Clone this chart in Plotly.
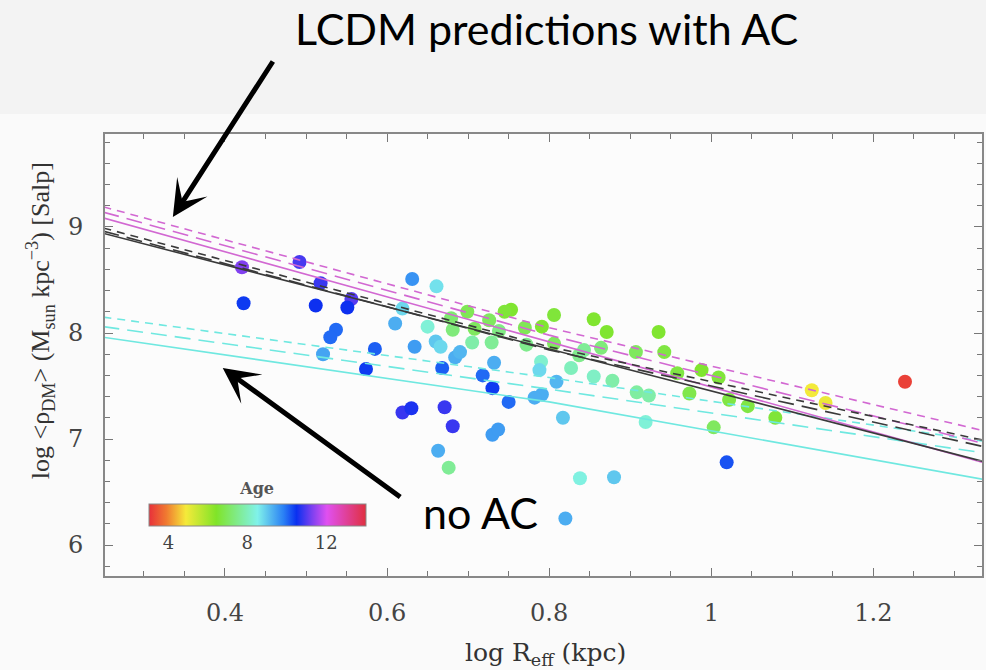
import plotly.graph_objects as go

# ---- data ----
log_reff = [0.421, 0.423, 0.492, 0.518, 0.512, 0.556, 0.551, 0.537, 0.530, 0.521,
            0.585, 0.574, 0.631, 0.661, 0.619, 0.610, 0.634, 0.619, 0.630, 0.650,
            0.660, 0.666, 0.684, 0.690, 0.668, 0.718, 0.730, 0.732, 0.750, 0.671,
            0.681, 0.730, 0.737, 0.663, 0.676, 0.838, 0.880, 0.820, 0.753, 0.745,
            0.806, 0.855, 0.791, 0.770, 0.699, 0.679, 0.681, 0.708, 0.726, 0.738,
            0.705, 0.729, 0.772, 0.806, 0.790, 0.788, 0.827, 0.855, 0.809, 0.791,
            0.782, 0.817, 0.837, 0.871, 0.935, 0.942, 0.907, 0.864, 0.843, 0.878,
            0.908, 0.923, 0.919, 0.958, 0.973, 0.988, 1.009, 1.022, 1.045, 1.003,
            1.019, 1.079, 1.124, 1.141, 1.239]
log_rho = [8.62, 8.28, 8.67, 8.47, 8.26, 8.32, 8.24, 8.03, 7.96, 7.80,
           7.85, 7.66, 8.51, 8.44, 8.23, 8.09, 7.87, 7.25, 7.29, 8.06,
           7.92, 7.87, 7.77, 7.82, 7.67, 7.60, 7.48, 7.72, 7.35, 7.30,
           7.12, 7.04, 7.09, 6.89, 6.73, 6.63, 6.64, 6.25, 8.22, 8.20,
           8.17, 8.13, 8.06, 8.05, 8.20, 8.14, 8.03, 8.04, 8.12, 8.02,
           7.91, 7.91, 7.89, 7.90, 7.73, 7.65, 7.67, 7.59, 7.54, 7.42,
           7.39, 7.20, 7.79, 8.01, 8.01, 7.82, 7.82, 7.86, 7.84, 7.55,
           7.44, 7.41, 7.16, 7.62, 7.43, 7.65, 7.58, 7.37, 7.31, 7.11,
           6.78, 7.20, 7.46, 7.34, 7.54]
age = [11.3, 10.4, 10.9, 10.8, 10.5, 11.0, 10.5, 10.0, 10.0, 9.4,
       10.1, 10.4, 9.6, 8.7, 8.8, 9.3, 9.5, 10.8, 10.6, 8.3,
       9.0, 8.8, 9.3, 9.2, 10.1, 10.0, 10.4, 9.3, 10.0, 10.8,
       10.8, 9.5, 9.5, 9.3, 7.6, 8.4, 9.0, 9.3, 6.5, 6.6,
       6.6, 6.5, 6.5, 6.9, 6.9, 7.2, 7.3, 7.0, 7.0, 7.4,
       7.8, 7.6, 7.5, 7.0, 8.2, 8.8, 8.0, 8.1, 9.2, 9.3,
       9.3, 9.0, 7.5, 6.5, 6.5, 6.7, 7.0, 7.3, 7.6, 7.8,
       7.7, 7.8, 8.3, 6.7, 6.8, 6.5, 6.6, 6.7, 6.7, 7.0,
       10.2, 6.6, 4.9, 5.0, 3.2]

# model predictions (log rho_DM at log Reff = line_x)
line_x = [0.25, 0.8, 1.335]
ac_mag_short = [9.19, 8.05, 7.08]
ac_mag_long = [9.14, 7.98, 6.96]
ac_mag_solid = [9.085, 7.92, 6.78]
ac_blk_short = [8.99, 7.87, 6.99]
ac_blk_long = [8.96, 7.84, 6.93]
ac_blk_solid = [8.94, 7.85, 6.79]
noac_cyan_short = [8.15, 7.58, 6.98]
noac_cyan_long = [8.06, 7.47, 6.87]
noac_cyan_solid = [7.96, 7.35, 6.62]

age_ticks = [4, 8, 12]

SERIF = "DejaVu Serif"
TIMES = "Liberation Serif"
SANS = "Lato"

colorscale = [
    [0.00, "#e8303a"],
    [0.08, "#f07a30"],
    [0.17, "#f5ea3a"],
    [0.31, "#80e428"],
    [0.50, "#80f2ea"],
    [0.62, "#2a80f5"],
    [0.68, "#0a30f0"],
    [0.75, "#7a40f0"],
    [0.82, "#e050f0"],
    [1.00, "#e03040"],
]

fig = go.Figure()

fig.add_trace(go.Scatter(
    x=log_reff, y=log_rho, mode="markers",
    marker=dict(
        size=14, color=age, colorscale=colorscale, cmin=3, cmax=14,
        line=dict(width=0),
        colorbar=dict(
            orientation="h", x=0.1735, xanchor="center", y=0.205, yanchor="top",
            len=217, lenmode="pixels", thickness=22, xpad=0, ypad=0,
            outlinewidth=1, outlinecolor="#888",
            tickvals=age_ticks, ticks="",
            tickfont=dict(family=SERIF, size=18, color="#444"),
            title=dict(text="<b>Age</b>", side="top", font=dict(family=SERIF, size=16, color="#555")),
            bgcolor="rgba(0,0,0,0)",
        ),
    ),
    showlegend=False, hoverinfo="skip",
))

MAG = "#d268d2"
BLK = "#3a3a3a"
CYN = "#6fe8e0"
SHORT = "8px,6px"
LONG = "16px,8px"

for ys, col, dash in [
    (noac_cyan_short, CYN, SHORT),
    (noac_cyan_long, CYN, LONG),
    (noac_cyan_solid, CYN, "solid"),
    (ac_mag_short, MAG, SHORT),
    (ac_mag_long, MAG, LONG),
    (ac_mag_solid, MAG, "solid"),
    (ac_blk_short, BLK, SHORT),
    (ac_blk_long, BLK, LONG),
    (ac_blk_solid, BLK, "solid"),
]:
    fig.add_trace(go.Scatter(
        x=line_x, y=ys, mode="lines",
        line=dict(color=col, width=1.6, dash=dash),
        showlegend=False, hoverinfo="skip",
    ))

# plot geometry in pixels: left 105, right 984, top 134, bottom 576
def px(xp):
    return (xp - 105) / 879.0

def py(yp):
    return (576 - yp) / 442.0

fig.add_shape(type="rect", xref="paper", yref="paper",
              x0=px(-10), x1=px(996), y0=py(114), y1=py(-10),
              fillcolor="#f3f3f3", line=dict(width=0), layer="below")

annotations = [
    dict(text="LCDM predictions with AC", x=px(548), y=py(29), xref="paper", yref="paper",
         showarrow=False, xanchor="center", yanchor="middle",
         font=dict(family=SANS, size=43, color="#000")),
    dict(text="no AC", x=px(481), y=py(512), xref="paper", yref="paper",
         showarrow=False, xanchor="center", yanchor="middle",
         font=dict(family=SANS, size=43, color="#000")),
    dict(text="", x=px(173), y=py(217), xref="paper", yref="paper",
         showarrow=True, ax=101, ay=-157, arrowhead=3, arrowsize=1.2,
         arrowwidth=5, arrowcolor="#000", standoff=0),
    dict(text="", x=px(223), y=py(368), xref="paper", yref="paper",
         showarrow=True, ax=179, ay=130, arrowhead=3, arrowsize=1.2,
         arrowwidth=5, arrowcolor="#000", standoff=0),
    dict(text="log R<sub>eff</sub> (kpc)", x=px(547), y=py(654), xref="paper", yref="paper",
         showarrow=False, xanchor="center", yanchor="middle",
         font=dict(family=SERIF, size=25, color="#333")),
    dict(text="log &lt;ρ<sub>DM</sub>&gt; (M<sub>sun</sub> kpc<sup>−3</sup>) [Salp]",
         x=px(40), y=py(321), xref="paper", yref="paper", textangle=-90,
         showarrow=False, xanchor="center", yanchor="middle",
         font=dict(family=TIMES, size=26, color="#333")),
]

axis_common = dict(
    ticks="inside", ticklen=8, tickwidth=1.2, tickcolor="#777",
    showline=True, linecolor="#888", linewidth=2, mirror="allticks",
    showgrid=False, zeroline=False,
    tickfont=dict(family=SERIF, size=24, color="#444"),
)

fig.update_layout(
    width=986, height=670,
    margin=dict(l=105, r=2, t=134, b=94),
    paper_bgcolor="#fafafa", plot_bgcolor="#fcfcfc",
    annotations=annotations,
    xaxis=dict(range=[0.252, 1.334], tick0=0, dtick=0.2, ticklabelstandoff=14,
               minor=dict(dtick=0.05, ticks="inside", ticklen=5, tickcolor="#777", showgrid=False),
               **axis_common),
    yaxis=dict(range=[5.708, 9.877], tick0=0, dtick=1, ticklabelstandoff=15,
               minor=dict(dtick=0.2, ticks="inside", ticklen=5, tickcolor="#777", showgrid=False),
               **axis_common),
)

fig.write_html("out.html", config={"displayModeBar": False},
               post_script="document.body.style.margin='0';document.body.style.overflow='hidden';")
